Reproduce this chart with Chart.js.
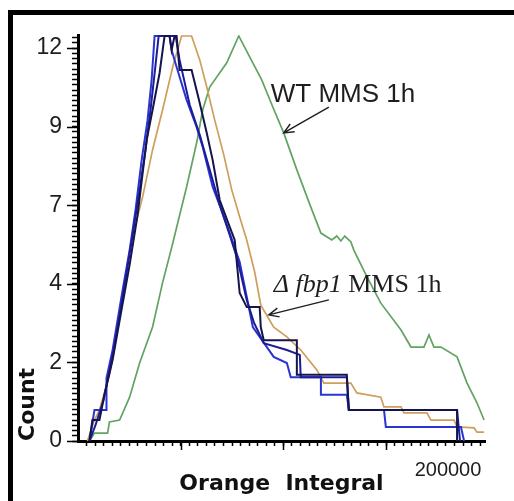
<!DOCTYPE html>
<html>
<head>
<meta charset="utf-8">
<title>Count vs Orange Integral</title>
<script src="https://cdn.jsdelivr.net/npm/chart.js@4.4.1/dist/chart.umd.min.js"></script>
<style>
  html, body { margin: 0; padding: 0; background: #fff; }
  #wrap { position: relative; width: 514px; height: 501px; overflow: hidden; }
  #frame { position: absolute; left: 8px; top: 10px; right: -10px; bottom: -10px;
           border-left: 5px solid #000; border-top: 5px solid #000; }
  #histo { position: absolute; left: 0; top: 0; }
</style>
</head>
<body>
<div id="wrap">
  <div id="frame"></div>
  <canvas id="histo" width="514" height="501"></canvas>
</div>
<script>
// traces as [Orange Integral, Count]
var wtMms1h = [
  [6200,0],[8900,0.24],[16000,0.24],[17000,0.58],[22500,0.64],[27900,1.34],
  [33300,2.38],[40300,3.48],[45700,4.83],[50600,5.9],[58700,7.76],[64100,9.1],
  [67400,10.11],[71200,10.81],[80400,11.55],[86900,12.37],[92800,11.73],[99300,11.03],
  [105300,10.2],[111200,9.41],[118300,8.28],[125800,7.15],[131300,6.35],[137200,6.14],
  [139900,6.26],[142100,6.11],[144200,6.26],[147500,6.08],[149100,5.83],[156200,5.01],
  [163700,4.21],[174600,3.39],[180000,2.87],[187000,2.87],[189700,3.24],[192400,2.87],
  [196200,2.87],[204900,2.57],[210300,1.77],[215700,1.16],[219500,0.64]
];
var tanTrace = [
  [5100,0],[8900,0.64],[11600,0.95],[17000,2.02],[21400,3.39],[24600,4.61],
  [28400,5.99],[34900,7.45],[40300,8.89],[45700,10.11],[51200,11.42],[56000,12.37],
  [61400,12.37],[65800,11.64],[69600,10.81],[73900,9.8],[78800,8.74],[83100,7.67],
  [87400,6.84],[91200,6.14],[95500,5.16],[98800,4.15],[105800,3.48],[112900,3.18],
  [120400,2.78],[129100,2.17],[132900,1.77],[147500,1.77],[150700,1.47],[163700,1.34],
  [165400,1.04],[174600,1.04],[176200,0.86],[188600,0.86],[190800,0.64],[203300,0.64],
  [204900,0.43],[214100,0.40],[215700,0.27],[219500,0.27]
];
var fbpA = [
  [6200,0],[8900,0.95],[15400,0.95],[15400,1.92],[18700,2.78],[24100,4.61],
  [27900,5.83],[31100,7.06],[34400,8.58],[37600,9.8],[39800,11.03],[41400,12.37],
  [49500,12.37],[50600,11.94],[53300,11.42],[58700,10.42],[64100,9.59],[67400,8.98],
  [72800,7.76],[78200,6.96],[82000,6.35],[87400,5.47],[94500,3.48],[98200,3.18],
  [105800,2.57],[112900,2.38],[115000,1.95],[131300,1.95],[131300,1.41],[145300,1.41],
  [146400,0.95],[165400,0.95],[166400,0.43],[207000,0.43],[208700,0]
];
var fbpB = [
  [6200,0],[9500,0.49],[13800,1.25],[19800,2.93],[25200,4.76],[29500,6.29],
  [33300,7.67],[36500,8.89],[39200,10.11],[41900,11.48],[43600,12.37],[52800,12.37],
  [54900,11.64],[60400,10.26],[65800,9.35],[71200,8.28],[76600,7.21],[82000,6.29],
  [86300,5.53],[91200,4.31],[95000,3.63],[100400,2.99],[112900,2.78],[119900,2.63],
  [120400,1.95],[145300,1.95],[146400,0.95],[204900,0.95],[206500,0]
];
var fbpC = [
  [6200,0],[7800,0.64],[11600,0.64],[14300,1.41],[18700,2.47],[23500,4.0],
  [27900,5.38],[32200,6.9],[37100,9.19],[40300,10.11],[44100,11.24],[46800,12.37],
  [49500,12.37],[50600,11.94],[52200,12.37],[53300,12.37],[54900,11.33],[61400,11.33],
  [65800,10.32],[69600,9.41],[72800,8.58],[76600,7.36],[82000,6.54],[84700,6.14],
  [87400,4.52],[91200,4.09],[98200,4.09],[98800,3.48],[100400,3.08],[118300,3.08],
  [118300,2.02],[145300,2.02],[146400,0.95],[204900,0.95],[204900,0]
];

// axis ticks: count labels sit on every 2.4 counts and are shown truncated
var yTickValues = [0, 2.4, 4.8, 7.2, 9.6, 12];
var yTickLabels = ['0', '2', '4', '7', '9', '12'];
var xTickValues = [200000];
var xTickLabels = ['200000'];

var X_MAX = 220000, Y_MAX = 12.4;
var X_MAJOR = 55500, X_MINOR = X_MAJOR / 12;
var Y_MINOR = 0.16;

function pts(arr) {
  return arr.map(function(p) { return {x: p[0], y: p[1]}; });
}

function arrow(ctx, x0, y0, x1, y1) {
  var ang = Math.atan2(y1 - y0, x1 - x0), len = 11, spread = 0.42;
  ctx.beginPath();
  ctx.moveTo(x0, y0);
  ctx.lineTo(x1, y1);
  ctx.moveTo(x1 - len * Math.cos(ang - spread), y1 - len * Math.sin(ang - spread));
  ctx.lineTo(x1, y1);
  ctx.lineTo(x1 - len * Math.cos(ang + spread), y1 - len * Math.sin(ang + spread));
  ctx.stroke();
}

// longer marks at the major positions
var majorMarks = {
  id: 'majorMarks',
  afterDraw: function(chart) {
    var ctx = chart.ctx, sx = chart.scales.x, sy = chart.scales.y, a = chart.chartArea;
    ctx.save();
    ctx.strokeStyle = '#000';
    ctx.lineWidth = 1.5;
    ctx.beginPath();
    yTickValues.forEach(function(v) {
      var py = Math.round(sy.getPixelForValue(v)) + 0.5;
      ctx.moveTo(a.left - 11, py);
      ctx.lineTo(a.left, py);
    });
    for (var v = X_MAJOR; v < X_MAX; v += X_MAJOR) {
      var px = Math.round(sx.getPixelForValue(v)) + 0.5;
      ctx.moveTo(px, a.bottom);
      ctx.lineTo(px, a.bottom + 9);
    }
    ctx.stroke();
    ctx.restore();
  }
};

// sample labels with pointer arrows
var sampleNotes = {
  id: 'sampleNotes',
  afterDatasetsDraw: function(chart) {
    var ctx = chart.ctx, sx = chart.scales.x, sy = chart.scales.y;
    function px(v) { return sx.getPixelForValue(v); }
    function py(v) { return sy.getPixelForValue(v); }
    ctx.save();
    ctx.fillStyle = '#1e1e1e';
    ctx.strokeStyle = '#1e1e1e';
    ctx.lineWidth = 1.4;
    ctx.textBaseline = 'alphabetic';
    ctx.textAlign = 'left';

    ctx.font = '26px "Liberation Sans", Arial, sans-serif';
    ctx.fillText('WT MMS 1h', px(104200), py(10.35));
    arrow(ctx, px(135600), py(10.2), px(111200), py(9.41));

    var lx = px(105800), ly = py(4.55);
    ctx.font = 'italic 26px "Liberation Serif", "Times New Roman", serif';
    ctx.fillText('\u0394 fbp1', lx, ly);
    lx += ctx.measureText('\u0394 fbp1').width;
    ctx.font = '26px "Liberation Serif", "Times New Roman", serif';
    ctx.fillText(' MMS 1h', lx, ly);
    arrow(ctx, px(135600), py(4.31), px(103100), py(3.85));
    ctx.restore();
  }
};

function line(label, data, color, width) {
  return {
    label: label,
    data: pts(data),
    borderColor: color,
    borderWidth: width,
    pointRadius: 0,
    tension: 0,
    fill: false
  };
}

new Chart(document.getElementById('histo'), {
  type: 'line',
  data: {
    datasets: [
      line('\u0394fbp1 MMS 1h c', fbpC, '#14144e', 2),
      line('\u0394fbp1 MMS 1h b', fbpB, '#1c1c9a', 2),
      line('\u0394fbp1 MMS 1h a', fbpA, '#2a34d2', 2),
      line('trace 4', tanTrace, '#cf9e5c', 1.7),
      line('WT MMS 1h', wtMms1h, '#62a362', 1.7)
    ]
  },
  options: {
    responsive: false,
    animation: false,
    devicePixelRatio: 1,
    layout: { padding: { left: 0, top: 35, right: 29, bottom: 0 } },
    plugins: { legend: { display: false }, tooltip: { enabled: false } },
    scales: {
      x: {
        type: 'linear',
        min: 0,
        max: X_MAX,
        afterFit: function(s) { s.height = 60; },
        afterBuildTicks: function(s) {
          var t = [];
          for (var i = 1; i * X_MINOR < X_MAX; i++) {
            var v = Math.round(i * X_MINOR);
            if (xTickValues[0] > t.length && false) {}
            t.push({value: v});
          }
          xTickValues.forEach(function(v) { t.push({value: v}); });
          t.sort(function(a, b) { return a.value - b.value; });
          s.ticks = t;
        },
        border: { color: '#000', width: 3 },
        grid: {
          drawOnChartArea: false,
          tickLength: 5,
          tickWidth: 1.5,
          tickColor: function(c) {
            return c.tick && xTickValues.indexOf(c.tick.value) >= 0 ? 'rgba(0,0,0,0)' : '#000';
          }
        },
        ticks: {
          autoSkip: false,
          maxRotation: 0,
          padding: 12,
          color: '#1e1e1e',
          font: { family: '"Liberation Sans", Arial, sans-serif', size: 20 },
          callback: function(value) {
            var i = xTickValues.indexOf(value);
            return i >= 0 ? xTickLabels[i] : '';
          }
        },
        title: {
          display: true,
          text: 'Orange  Integral',
          color: '#111',
          padding: { top: 0, bottom: 4 },
          font: { family: '"DejaVu Sans", sans-serif', size: 22, weight: 'bold' }
        }
      },
      y: {
        type: 'linear',
        min: 0,
        max: Y_MAX,
        afterFit: function(s) { s.width = 78; },
        afterBuildTicks: function(s) {
          var t = [];
          for (var i = 0; i * Y_MINOR <= Y_MAX + 1e-9; i++) {
            t.push({value: +(i * Y_MINOR).toFixed(3)});
          }
          s.ticks = t;
        },
        border: { color: '#000', width: 3 },
        grid: { drawOnChartArea: false, tickLength: 6, tickWidth: 1.5, tickColor: '#000' },
        ticks: {
          autoSkip: false,
          padding: 10,
          color: '#1e1e1e',
          font: { family: '"Liberation Sans", Arial, sans-serif', size: 23 },
          callback: function(value) {
            for (var i = 0; i < yTickValues.length; i++) {
              if (Math.abs(yTickValues[i] - value) < 1e-6) return yTickLabels[i];
            }
            return '';
          }
        },
        title: {
          display: true,
          text: 'Count',
          align: 'start',
          color: '#111',
          padding: { top: 15, bottom: 0 },
          font: { family: '"DejaVu Sans", sans-serif', size: 22, weight: 'bold' }
        }
      }
    }
  },
  plugins: [majorMarks, sampleNotes]
});
</script>
</body>
</html>
